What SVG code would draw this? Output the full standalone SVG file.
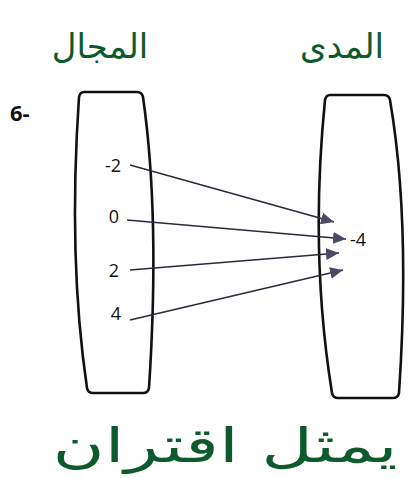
<svg xmlns="http://www.w3.org/2000/svg" width="410" height="478" viewBox="0 0 410 478">
<style>
.box{fill:none;stroke:#111;stroke-width:2.6;stroke-linejoin:round}
.num{font-family:"Open Sans","Liberation Sans",sans-serif;font-size:18px;fill:#111}
.ar{font-family:"DejaVu Sans","Noto Sans",sans-serif;fill:#0d5a2c}
.edge{stroke:#2a2a3a;stroke-width:1.6;fill:none;marker-end:url(#ah)}
</style>
<defs>
<marker id="ah" markerUnits="userSpaceOnUse" markerWidth="14" markerHeight="12" refX="13" refY="6" orient="auto">
<path d="M0,0 L13,6 L0,12 Z" fill="#4b4b66"/>
</marker>
</defs>
<rect width="410" height="478" fill="#fff"/>
<text class="ar" x="100" y="58" font-size="34" text-anchor="middle">المجال</text>
<text class="ar" x="342" y="58" font-size="34" text-anchor="middle">المدى</text>
<text x="10" y="121" font-family="Open Sans, Liberation Sans, sans-serif" font-weight="bold" font-size="22" fill="#111">6-</text>
<g id="domain">
<path class="box" d="M84,92 L137,92 Q142,92 143,97 C152,160 158,250 149,388 Q148,393 143,393 L93,393 Q88,393 87,388 C74,300 72,200 79,97 Q80,92 84,92 Z"/>
<text class="num" x="113" y="172" text-anchor="middle">-2</text>
<text class="num" x="114" y="223" text-anchor="middle">0</text>
<text class="num" x="114" y="277" text-anchor="middle">2</text>
<text class="num" x="116" y="320" text-anchor="middle">4</text>
</g>
<g id="range">
<path class="box" d="M330,95 L384,95 Q389,95 390,100 C402,170 408,260 399,393 Q398,398 393,398 L338,398 Q333,398 332,393 C317,300 315,200 325,100 Q326,95 330,95 Z"/>
<text class="num" x="350" y="246">-4</text>
</g>
<g id="connectors">
<line class="edge" x1="130" y1="165" x2="334" y2="222"/>
<line class="edge" x1="127" y1="220" x2="346" y2="239"/>
<line class="edge" x1="130" y1="270" x2="339" y2="253"/>
<line class="edge" x1="130" y1="320" x2="343" y2="270"/>
</g>
<text class="ar" x="225" y="462" font-size="48" text-anchor="middle" textLength="345" lengthAdjust="spacingAndGlyphs">يمثل اقتران</text>
</svg>
